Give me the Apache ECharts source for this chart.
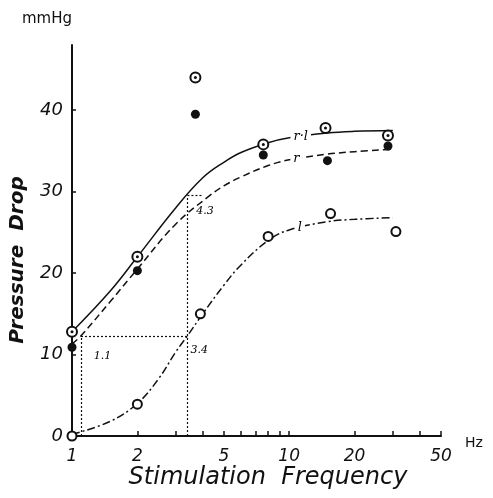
<!DOCTYPE html>
<html>
<head>
<meta charset="utf-8">
<script src="https://cdn.jsdelivr.net/npm/echarts@6/dist/echarts.min.js"></script>
<style>
  html, body { margin: 0; padding: 0; background: #fff; }
  #chart { width: 493px; height: 498px; }
</style>
</head>
<body>
<div id="chart"></div>
<script>
// measured points (Hz, mmHg)
var pointsRL = [[1, 12.8], [2, 22], [3.7, 44], [7.6, 35.8], [14.7, 37.8], [28.5, 36.9]];
var pointsR = [[1, 10.9], [2, 20.3], [3.7, 39.5], [7.6, 34.5], [15, 33.8], [28.5, 35.6]];
var pointsL = [[1, 0], [2, 3.9], [3.9, 15], [8, 24.5], [15.5, 27.3], [31, 25.1]];

// fitted curves
var curveRL = [[1, 12.8], [1.5, 17.8], [2, 22], [3, 28], [4, 31.7], [5, 33.6], [6, 34.8], [8, 36], [10, 36.6], [15, 37.2], [20, 37.4], [30, 37.5]];
var curveR = [[1, 11.3], [1.1, 12.3], [1.5, 16.5], [2, 20.5], [3, 26], [4.3, 29.5], [5, 30.7], [6, 31.8], [8, 33.2], [10, 33.9], [15, 34.6], [20, 34.9], [30, 35.2]];
var curveL = [[1, 0.2], [1.5, 1.8], [2, 4], [2.5, 7], [3, 10.3], [3.4, 12.3], [4, 15], [5, 18.5], [6, 21], [8, 24], [10, 25.3], [15, 26.3], [20, 26.6], [30, 26.8]];

var xLabels = [1, 2, 5, 10, 20, 50];
var xTicks = [1, 2, 3, 4, 5, 6, 7, 8, 9, 10, 20, 30, 40, 50];
var yTicks = [0, 10, 20, 30, 40];

// dotted guide lines
var guides = [
  [[1.1, 0], [1.1, 12.3]],
  [[1.1, 12.3], [3.4, 12.3]],
  [[3.4, 0], [3.4, 29.5]],
  [[3.4, 29.5], [4.0, 29.5]]
];
var notes = [
  { name: '1.1', value: [1.38, 9.8] },
  { name: '3.4', value: [3.85, 10.6] },
  { name: '4.3', value: [4.1, 27.6] }
];
var curveNames = [
  { name: 'r·l', value: [11.3, 36.7] },
  { name: 'r', value: [10.8, 34.0] },
  { name: 'l', value: [11.2, 25.6] }
];

var chartDom = document.getElementById('chart');
var myChart = echarts.init(chartDom);
var ink = '#111';
var font = 'DejaVu Sans';

var option = {
  animation: false,
  grid: { left: 72, right: 52, top: 45, bottom: 62 },
  xAxis: {
    type: 'log', logBase: 10, min: 1, max: 50,
    axisLine: { lineStyle: { color: ink, width: 2 } },
    axisTick: { inside: true, length: 5, customValues: xTicks, lineStyle: { color: ink, width: 1.5 } },
    axisLabel: { customValues: xLabels, color: ink, fontFamily: font, fontStyle: 'italic', fontSize: 17, margin: 12 },
    splitLine: { show: false }
  },
  yAxis: {
    type: 'value', min: 0, max: 48,
    axisLine: { show: true, lineStyle: { color: ink, width: 2 } },
    axisTick: { show: true, inside: true, length: 4, customValues: yTicks, lineStyle: { color: ink, width: 1.5 } },
    axisLabel: { customValues: yTicks, color: ink, fontFamily: font, fontStyle: 'italic', fontSize: 18, margin: 9 },
    splitLine: { show: false }
  },
  graphic: [
    { type: 'text', left: 22, top: 12, style: { text: 'mmHg', font: '15px ' + font, fill: ink } },
    { type: 'text', left: 465, top: 436, style: { text: 'Hz', font: '14px ' + font, fill: ink } },
    { type: 'text', x: 18, y: 260, rotation: Math.PI / 2,
      style: { text: 'Pressure  Drop', font: 'italic bold 20px ' + font, fill: ink, align: 'center', verticalAlign: 'middle' } },
    { type: 'text', x: 268, y: 478,
      style: { text: 'Stimulation  Frequency', font: 'italic 24px ' + font, fill: ink, align: 'center', verticalAlign: 'middle' } }
  ],
  series: [
    {
      type: 'line', data: curveRL, smooth: 0.4, symbol: 'none',
      lineStyle: { color: ink, width: 1.5 }
    },
    {
      type: 'line', data: curveR, smooth: 0.4, symbol: 'none',
      lineStyle: { color: ink, width: 1.5, type: [7, 4] }
    },
    {
      type: 'line', data: curveL, smooth: 0.4, symbol: 'none',
      lineStyle: { color: ink, width: 1.5, type: [8, 3, 2, 3] }
    },
    {
      type: 'line', data: [], symbol: 'none',
      markLine: {
        silent: true, symbol: 'none',
        lineStyle: { color: ink, width: 1.2, type: [2, 2] },
        label: { show: false },
        data: guides.map(function (g) { return [{ coord: g[0] }, { coord: g[1] }]; })
      }
    },
    {
      // curve names, with white backing to break the line
      type: 'scatter', data: curveNames, symbolSize: 1, z: 10,
      itemStyle: { color: 'rgba(0,0,0,0)', opacity: 1 },
      label: {
        show: true, position: 'inside', formatter: '{b}',
        fontFamily: 'DejaVu Serif', fontStyle: 'italic', fontSize: 13, color: '#000',
        backgroundColor: '#fff', padding: [1, 3]
      }
    },
    {
      type: 'scatter', data: notes, symbolSize: 1, z: 10,
      itemStyle: { color: 'rgba(0,0,0,0)', opacity: 1 },
      label: {
        show: true, position: 'inside', formatter: '{b}',
        fontFamily: 'DejaVu Serif', fontStyle: 'italic', fontSize: 11, color: '#000'
      }
    },
    {
      type: 'scatter', data: pointsRL, symbol: 'circle', symbolSize: 10, z: 5,
      itemStyle: { color: '#fff', borderColor: ink, borderWidth: 2, opacity: 1 }
    },
    {
      type: 'scatter', data: pointsRL, symbol: 'circle', symbolSize: 3, z: 6,
      itemStyle: { color: ink, opacity: 1 }
    },
    {
      type: 'scatter', data: pointsR, symbol: 'circle', symbolSize: 9, z: 5,
      itemStyle: { color: ink, opacity: 1 }
    },
    {
      type: 'scatter', data: pointsL, symbol: 'circle', symbolSize: 9, z: 5,
      itemStyle: { color: '#fff', borderColor: ink, borderWidth: 2, opacity: 1 }
    }
  ]
};

myChart.setOption(option);
</script>
</body>
</html>
